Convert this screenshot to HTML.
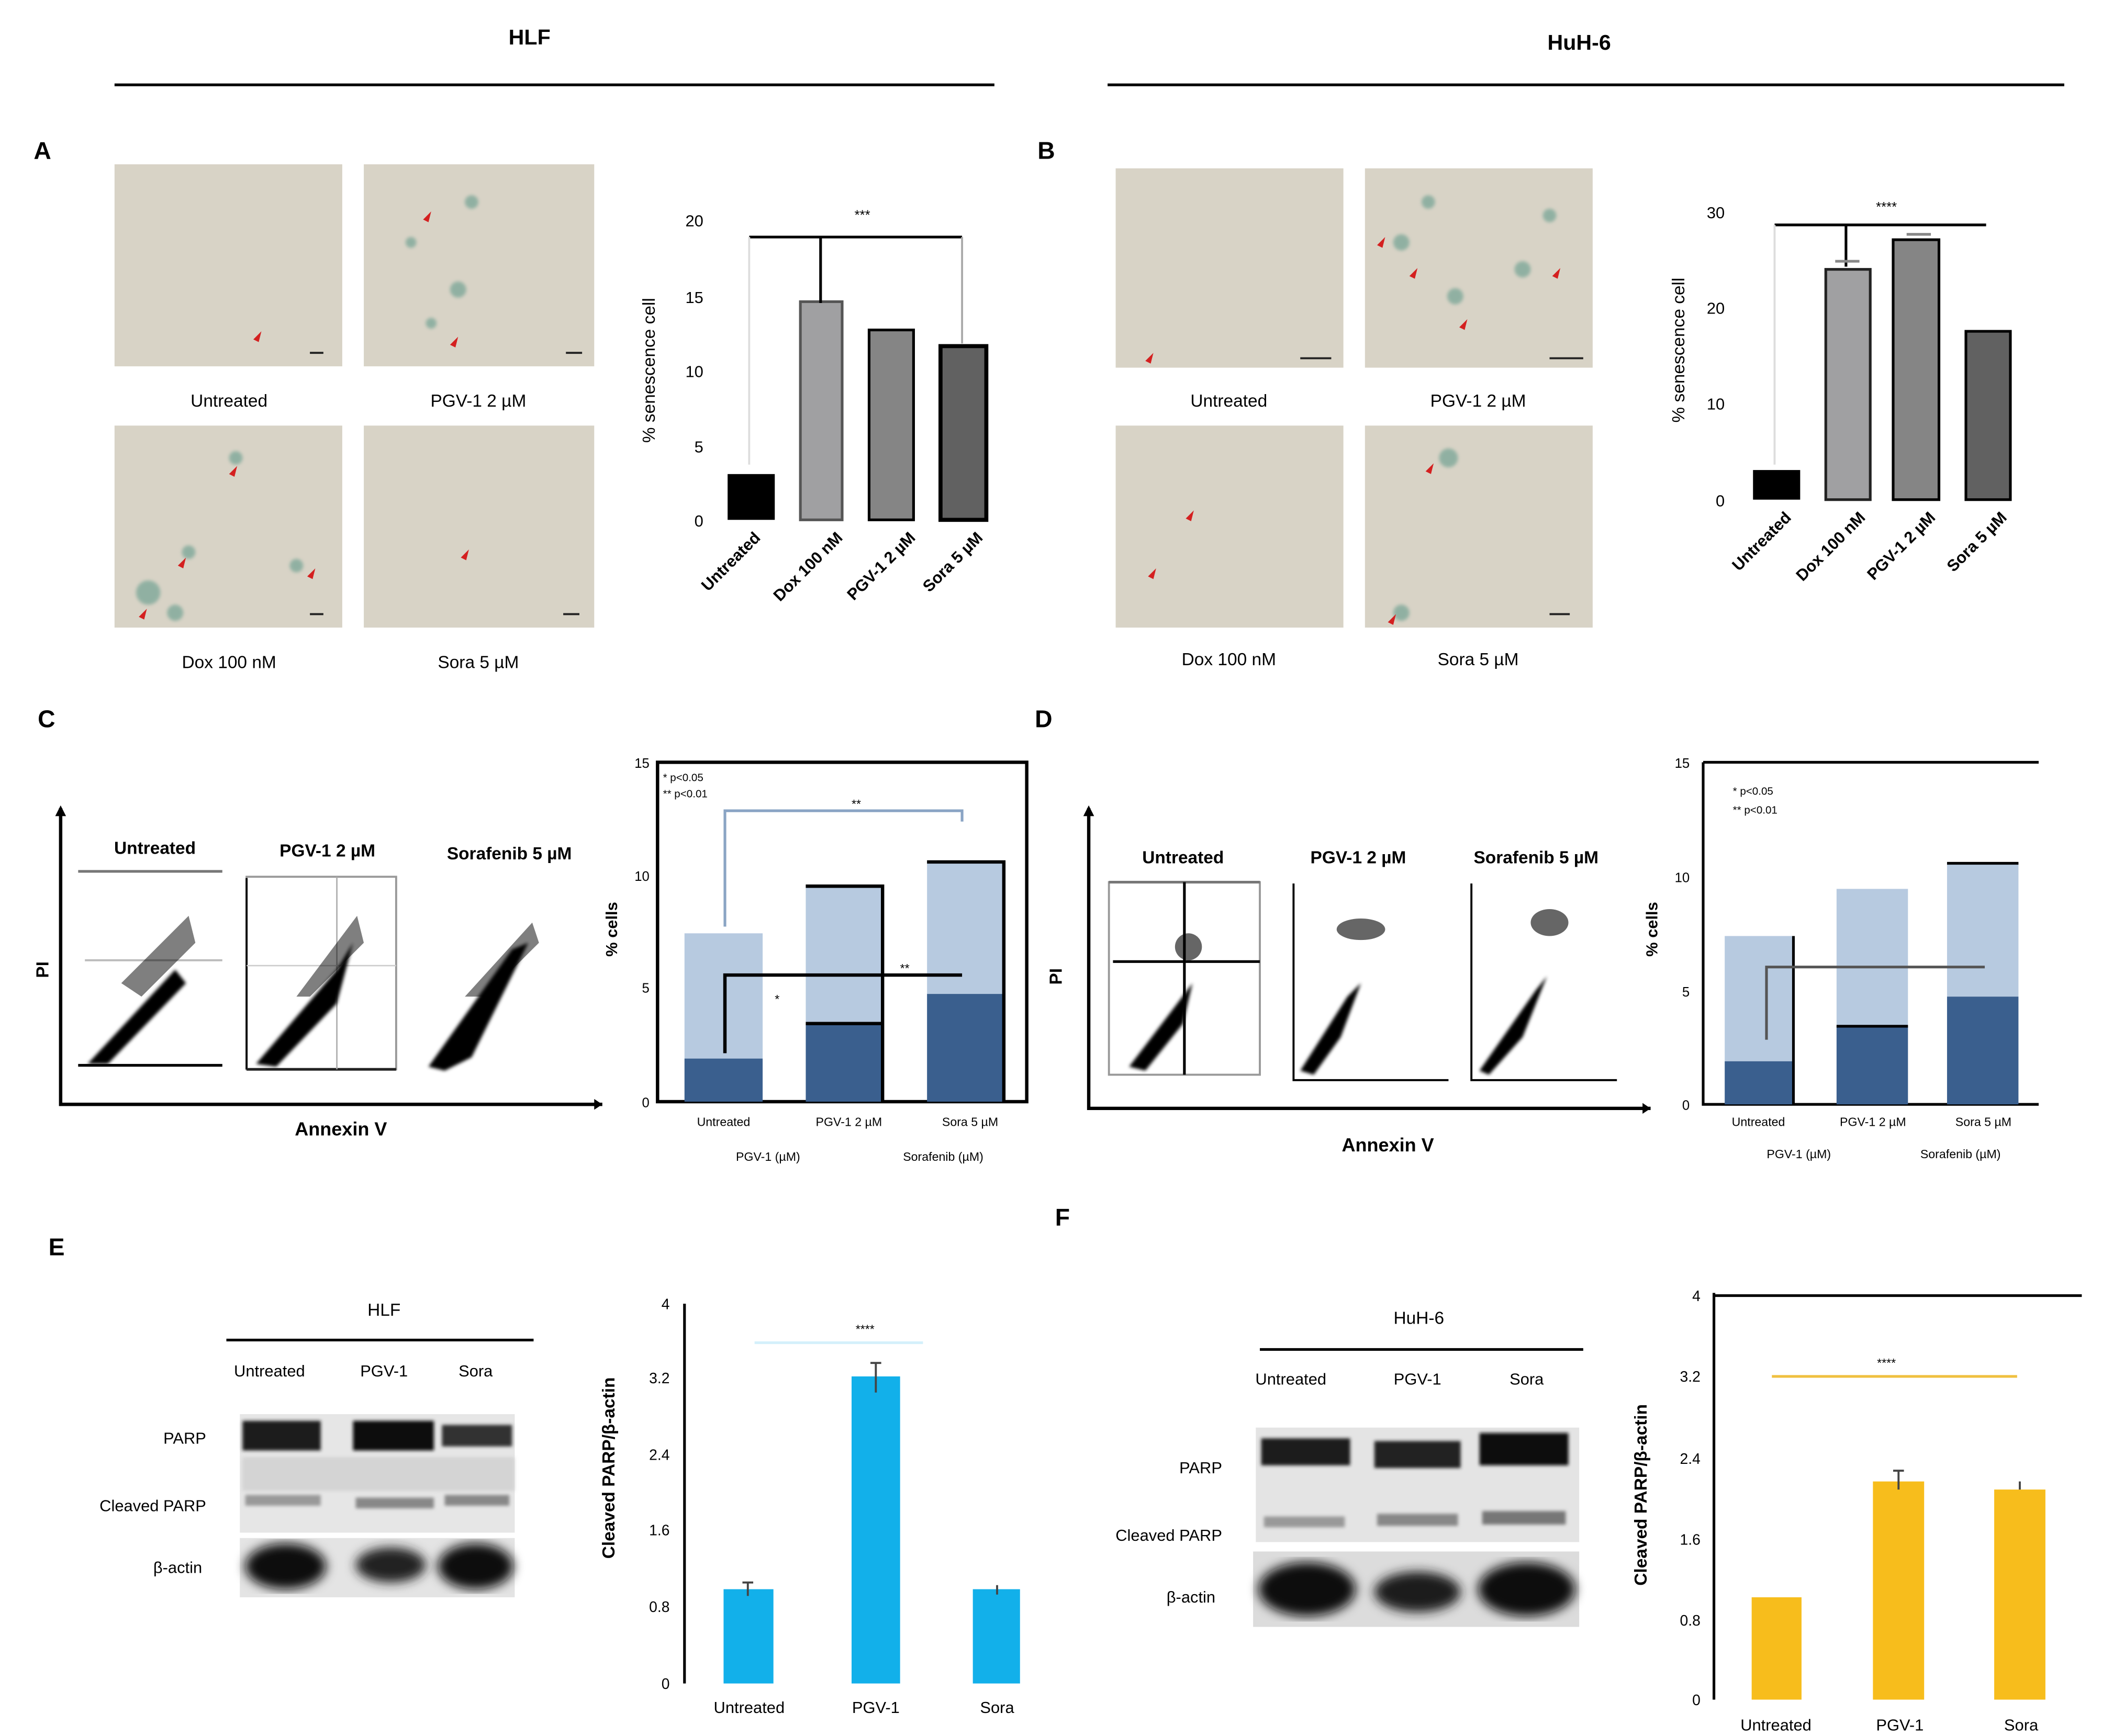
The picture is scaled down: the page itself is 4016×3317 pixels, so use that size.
<!DOCTYPE html>
<html><head><meta charset="utf-8"><style>html,body{margin:0;padding:0;background:#fff}svg{display:block}</style></head>
<body>
<svg width="4016" height="3317" viewBox="0 0 1560 1289" preserveAspectRatio="none" xmlns="http://www.w3.org/2000/svg" font-family="Liberation Sans, sans-serif">
<defs>
<filter id="bl"><feGaussianBlur stdDeviation="4"/></filter>
<filter id="bl2"><feGaussianBlur stdDeviation="1.2"/></filter>
</defs>
<rect width="1560" height="1289" fill="#fff"/>
<!-- headers -->
<text x="393" y="33" font-size="16" font-weight="bold" text-anchor="middle">HLF</text>
<line x1="85" y1="63" x2="738" y2="63" stroke="#000" stroke-width="2"/>
<text x="1172" y="37" font-size="16" font-weight="bold" text-anchor="middle">HuH-6</text>
<line x1="822" y1="63" x2="1532" y2="63" stroke="#000" stroke-width="2"/>
<g font-size="18" font-weight="bold">
<text x="25" y="118">A</text><text x="770" y="118">B</text>
<text x="28" y="540">C</text><text x="768" y="540">D</text>
<text x="36" y="932">E</text><text x="783" y="910">F</text>
</g>
<!-- micrographs -->
<g fill="#d8d3c6">
<rect x="85" y="122" width="169" height="150"/><rect x="270" y="122" width="171" height="150"/>
<rect x="85" y="316" width="169" height="150"/><rect x="270" y="316" width="171" height="150"/>
<rect x="828" y="125" width="169" height="148"/><rect x="1013" y="125" width="169" height="148"/>
<rect x="828" y="316" width="169" height="150"/><rect x="1013" y="316" width="169" height="150"/>
</g>
<g fill="#7fa89a" opacity="0.8" filter="url(#bl2)">
<circle cx="340" cy="215" r="6"/><circle cx="350" cy="150" r="5"/><circle cx="305" cy="180" r="4"/><circle cx="320" cy="240" r="4"/>
<circle cx="110" cy="440" r="9"/><circle cx="130" cy="455" r="6"/><circle cx="175" cy="340" r="5"/><circle cx="140" cy="410" r="5"/><circle cx="220" cy="420" r="5"/>
<circle cx="1040" cy="180" r="6"/><circle cx="1080" cy="220" r="6"/><circle cx="1130" cy="200" r="6"/><circle cx="1150" cy="160" r="5"/><circle cx="1060" cy="150" r="5"/>
<circle cx="1075" cy="340" r="7"/><circle cx="1040" cy="455" r="6"/>
</g>
<g fill="#d42020">
<path d="M188 252l6-6-2 8z"/><path d="M314 163l6-6-2 8z"/><path d="M334 256l6-6-2 8z"/>
<path d="M170 352l6-6-2 8z"/><path d="M132 420l6-6-2 8z"/><path d="M228 428l6-6-2 8z"/><path d="M103 458l6-6-2 8z"/><path d="M342 414l6-6-2 8z"/>
<path d="M850 268l6-6-2 8z"/><path d="M1022 182l6-6-2 8z"/><path d="M1046 205l6-6-2 8z"/><path d="M1083 243l6-6-2 8z"/><path d="M1152 205l6-6-2 8z"/>
<path d="M880 385l6-6-2 8z"/><path d="M852 428l6-6-2 8z"/><path d="M1058 350l6-6-2 8z"/><path d="M1030 462l6-6-2 8z"/>
</g>
<g stroke="#222" stroke-width="1.5">
<line x1="230" y1="262" x2="240" y2="262"/><line x1="420" y1="262" x2="432" y2="262"/><line x1="230" y1="456" x2="240" y2="456"/><line x1="418" y1="456" x2="430" y2="456"/>
<line x1="965" y1="266" x2="988" y2="266"/><line x1="1150" y1="266" x2="1175" y2="266"/><line x1="1150" y1="456" x2="1165" y2="456"/>
</g>
<g font-size="13" text-anchor="middle">
<text x="170" y="302">Untreated</text><text x="355" y="302">PGV-1 2 µM</text>
<text x="170" y="496">Dox 100 nM</text><text x="355" y="496">Sora 5 µM</text>
<text x="912" y="302">Untreated</text><text x="1097" y="302">PGV-1 2 µM</text>
<text x="912" y="494">Dox 100 nM</text><text x="1097" y="494">Sora 5 µM</text>
</g>
<!-- Chart A -->
<g font-size="12">
<text x="522" y="168" text-anchor="end">20</text><text x="522" y="225" text-anchor="end">15</text><text x="522" y="280" text-anchor="end">10</text><text x="522" y="336" text-anchor="end">5</text><text x="522" y="391" text-anchor="end">0</text>
<text transform="translate(486,275) rotate(-90)" text-anchor="middle" font-size="13">% senescence cell</text>
<rect x="540" y="352" width="35" height="34" fill="#000"/>
<rect x="594" y="224" width="31" height="162" fill="#a0a0a2" stroke="#555" stroke-width="2"/>
<rect x="645" y="245" width="33" height="141" fill="#858585" stroke="#000" stroke-width="2"/>
<rect x="698" y="257" width="34" height="129" fill="#616161" stroke="#000" stroke-width="3"/>
<path d="M556 176H714M609 176V225" stroke="#000" stroke-width="2" fill="none"/>
<line x1="556" y1="176" x2="556" y2="345" stroke="#ddd" stroke-width="1.5"/>
<line x1="714" y1="176" x2="714" y2="255" stroke="#aaa" stroke-width="1.5"/>
<text x="640" y="163" text-anchor="middle" font-size="10">***</text>
<g font-size="12" font-weight="bold" text-anchor="end">
<text transform="translate(565,400) rotate(-45)">Untreated</text>
<text transform="translate(626,400) rotate(-45)">Dox 100 nM</text>
<text transform="translate(680,400) rotate(-45)">PGV-1 2 µM</text>
<text transform="translate(730,400) rotate(-45)">Sora 5 µM</text>
</g>
</g>
<!-- Chart B -->
<g font-size="12">
<text x="1280" y="162" text-anchor="end">30</text><text x="1280" y="233" text-anchor="end">20</text><text x="1280" y="304" text-anchor="end">10</text><text x="1280" y="376" text-anchor="end">0</text>
<text transform="translate(1250,260) rotate(-90)" text-anchor="middle" font-size="13">% senescence cell</text>
<rect x="1301" y="349" width="35" height="22" fill="#000"/>
<rect x="1355" y="200" width="33" height="171" fill="#a0a0a2" stroke="#222" stroke-width="2"/>
<rect x="1405" y="178" width="34" height="193" fill="#858585" stroke="#000" stroke-width="2"/>
<rect x="1459" y="246" width="33" height="125" fill="#616161" stroke="#000" stroke-width="2"/>
<path d="M1317 167H1474M1370 167V198" stroke="#000" stroke-width="2" fill="none"/>
<line x1="1317" y1="167" x2="1317" y2="345" stroke="#ddd" stroke-width="1.5"/>
<path d="M1362 194h18M1415 174h18" stroke="#888" stroke-width="2"/>
<text x="1400" y="157" text-anchor="middle" font-size="10">****</text>
<g font-size="12" font-weight="bold" text-anchor="end">
<text transform="translate(1330,385) rotate(-45)">Untreated</text>
<text transform="translate(1385,385) rotate(-45)">Dox 100 nM</text>
<text transform="translate(1437,385) rotate(-45)">PGV-1 2 µM</text>
<text transform="translate(1490,385) rotate(-45)">Sora 5 µM</text>
</g>
</g>
<!-- Flow plots C -->
<g>
<path d="M45 600V820H447" stroke="#000" stroke-width="2.5" fill="none"/>
<path d="M441 816l6 4-6 4z"/><path d="M41 606l4-8 4 8z"/>
<text x="36" y="720" font-size="13" font-weight="bold" transform="rotate(-90 36 720)" text-anchor="middle">PI</text>
<text x="253" y="843" font-size="14" font-weight="bold" text-anchor="middle">Annexin V</text>
<g font-size="13" font-weight="bold" text-anchor="middle"><text x="115" y="634">Untreated</text><text x="243" y="636">PGV-1 2 µM</text><text x="378" y="638">Sorafenib 5 µM</text></g>
<line x1="58" y1="647" x2="165" y2="647" stroke="#777" stroke-width="2"/>
<line x1="63" y1="713" x2="165" y2="713" stroke="#bbb" stroke-width="1.5"/>
<line x1="58" y1="791" x2="165" y2="791" stroke="#000" stroke-width="2"/>
<rect x="183" y="651" width="111" height="143" fill="none" stroke="#999" stroke-width="1.5"/>
<line x1="183" y1="652" x2="183" y2="794" stroke="#000" stroke-width="1.5"/>
<line x1="183" y1="794" x2="294" y2="794" stroke="#222" stroke-width="2"/>
<line x1="250" y1="651" x2="250" y2="794" stroke="#aaa"/>
<line x1="183" y1="717" x2="294" y2="717" stroke="#ccc"/>
<g fill="#000" filter="url(#bl2)">
<path d="M65 790L130 720 138 730 80 790z"/><path d="M190 790L250 720 262 700 250 745 205 792z"/><path d="M318 792L380 705 392 700 350 785 330 795z"/>
</g>
<g fill="#000" opacity="0.5">
<path d="M90 730l50-50 5 20-40 40z"/><path d="M220 740l45-60 5 20-40 40z"/><path d="M345 740l50-55 5 15-40 40z"/>
</g>
</g>
<!-- Chart C -->
<g>
<rect x="488" y="566" width="274" height="252" fill="none" stroke="#000" stroke-width="2.5"/>
<g font-size="10" text-anchor="end"><text x="482" y="570">15</text><text x="482" y="654">10</text><text x="482" y="737">5</text><text x="482" y="822">0</text></g>
<text transform="translate(458,690) rotate(-90)" text-anchor="middle" font-size="12" font-weight="bold">% cells</text>
<text x="492" y="580" font-size="8">* p&lt;0.05</text><text x="492" y="592" font-size="8">** p&lt;0.01</text>
<rect x="508" y="693" width="58" height="93" fill="#b7cae0"/><rect x="508" y="786" width="58" height="32" fill="#3a5f8e"/>
<rect x="598" y="658" width="57" height="102" fill="#b7cae0"/><rect x="598" y="760" width="57" height="58" fill="#3a5f8e"/>
<rect x="688" y="640" width="57" height="98" fill="#b7cae0"/><rect x="688" y="738" width="57" height="80" fill="#3a5f8e"/>
<path d="M598 658H655V818M598 760H655" stroke="#000" stroke-width="2.5" fill="none"/>
<path d="M688 640H745V818" stroke="#000" stroke-width="2.5" fill="none"/>
<path d="M538 688V602H714V610" stroke="#8aa4c4" stroke-width="2" fill="none"/>
<path d="M538 782V724H714" stroke="#000" stroke-width="2.5" fill="none"/>
<text x="632" y="600" font-size="9">**</text><text x="668" y="722" font-size="9">**</text><text x="575" y="745" font-size="9">*</text>
<g font-size="9" text-anchor="middle"><text x="537" y="836">Untreated</text><text x="630" y="836">PGV-1 2 µM</text><text x="720" y="836">Sora 5 µM</text>
<text x="570" y="862">PGV-1 (µM)</text><text x="700" y="862">Sorafenib (µM)</text></g>
</g>
<!-- Flow plots D -->
<g>
<path d="M808 600V823H1225" stroke="#000" stroke-width="2.5" fill="none"/>
<path d="M1219 819l6 4-6 4z"/><path d="M804 606l4-8 4 8z"/>
<text x="788" y="725" font-size="13" font-weight="bold" transform="rotate(-90 788 725)" text-anchor="middle">PI</text>
<text x="1030" y="855" font-size="14" font-weight="bold" text-anchor="middle">Annexin V</text>
<g font-size="13" font-weight="bold" text-anchor="middle"><text x="878" y="641">Untreated</text><text x="1008" y="641">PGV-1 2 µM</text><text x="1140" y="641">Sorafenib 5 µM</text></g>
<rect x="823" y="655" width="112" height="143" fill="none" stroke="#999" stroke-width="1.5"/>
<line x1="823" y1="655" x2="935" y2="655" stroke="#777" stroke-width="2"/>
<line x1="879" y1="655" x2="879" y2="798" stroke="#000" stroke-width="2"/>
<line x1="826" y1="714" x2="935" y2="714" stroke="#000" stroke-width="2"/>
<path d="M960 656V802H1075" stroke="#000" stroke-width="1.5" fill="none"/>
<path d="M1092 656V802H1200" stroke="#000" stroke-width="1.5" fill="none"/>
<g fill="#000" filter="url(#bl2)">
<path d="M838 792L870 750 885 730 878 760 850 795z"/><path d="M965 795L1000 740 1010 730 995 770 975 798z"/><path d="M1098 795L1140 735 1148 725 1130 770 1105 798z"/>
</g>
<g fill="#000" opacity="0.6">
<ellipse cx="882" cy="703" rx="10" ry="10"/><ellipse cx="1010" cy="690" rx="18" ry="8"/><ellipse cx="1150" cy="685" rx="14" ry="10"/>
</g>
</g>
<!-- Chart D -->
<g>
<path d="M1264 566V820H1513M1264 566H1513" stroke="#000" stroke-width="2" fill="none"/>
<g font-size="10" text-anchor="end"><text x="1254" y="570">15</text><text x="1254" y="655">10</text><text x="1254" y="740">5</text><text x="1254" y="824">0</text></g>
<text transform="translate(1230,690) rotate(-90)" text-anchor="middle" font-size="12" font-weight="bold">% cells</text>
<text x="1286" y="590" font-size="8">* p&lt;0.05</text><text x="1286" y="604" font-size="8">** p&lt;0.01</text>
<rect x="1280" y="695" width="51" height="93" fill="#b7cae0"/><rect x="1280" y="788" width="51" height="32" fill="#3a5f8e"/>
<rect x="1363" y="660" width="53" height="102" fill="#b7cae0"/><rect x="1363" y="762" width="53" height="58" fill="#3a5f8e"/>
<rect x="1445" y="641" width="53" height="99" fill="#b7cae0"/><rect x="1445" y="740" width="53" height="80" fill="#3a5f8e"/>
<path d="M1331 695V820" stroke="#000" stroke-width="2"/>
<line x1="1363" y1="762" x2="1416" y2="762" stroke="#000" stroke-width="2"/>
<line x1="1445" y1="641" x2="1498" y2="641" stroke="#000" stroke-width="2"/>
<path d="M1311 772V718H1473" stroke="#555" stroke-width="2" fill="none"/>
<g font-size="9" text-anchor="middle"><text x="1305" y="836">Untreated</text><text x="1390" y="836">PGV-1 2 µM</text><text x="1472" y="836">Sora 5 µM</text>
<text x="1335" y="860">PGV-1 (µM)</text><text x="1455" y="860">Sorafenib (µM)</text></g>
</g>
<!-- E blot -->
<g>
<text x="285" y="977" font-size="13" text-anchor="middle">HLF</text>
<line x1="168" y1="995" x2="396" y2="995" stroke="#000" stroke-width="2"/>
<g font-size="12" text-anchor="middle"><text x="200" y="1022">Untreated</text><text x="285" y="1022">PGV-1</text><text x="353" y="1022">Sora</text></g>
<g font-size="12" text-anchor="end"><text x="153" y="1072">PARP</text><text x="153" y="1122">Cleaved PARP</text><text x="150" y="1168">β-actin</text></g>
<rect x="178" y="1050" width="204" height="88" fill="#e6e6e6"/>
<rect x="178" y="1142" width="204" height="44" fill="#e4e4e4"/>
<g filter="url(#bl2)">
<rect x="180" y="1055" width="58" height="22" fill="#1c1c1c"/><rect x="262" y="1055" width="60" height="22" fill="#111"/><rect x="328" y="1058" width="52" height="16" fill="#333"/>
<rect x="182" y="1110" width="56" height="8" fill="#999"/><rect x="264" y="1112" width="58" height="8" fill="#888"/><rect x="330" y="1110" width="48" height="8" fill="#888"/>
<rect x="180" y="1082" width="202" height="25" fill="#c8c8c8" opacity="0.6"/>
</g>
<g filter="url(#bl)">
<ellipse cx="212" cy="1163" rx="30" ry="17" fill="#0a0a0a"/><ellipse cx="290" cy="1162" rx="26" ry="13" fill="#222"/><ellipse cx="353" cy="1163" rx="28" ry="17" fill="#0a0a0a"/>
</g>
</g>
<!-- E chart -->
<g>
<line x1="508" y1="968" x2="508" y2="1250" stroke="#000" stroke-width="2"/>
<g font-size="11" text-anchor="end"><text x="497" y="972">4</text><text x="497" y="1027">3.2</text><text x="497" y="1084">2.4</text><text x="497" y="1140">1.6</text><text x="497" y="1197">0.8</text><text x="497" y="1254">0</text></g>
<text transform="translate(456,1090) rotate(-90)" text-anchor="middle" font-size="13" font-weight="bold">Cleaved PARP/β-actin</text>
<rect x="537" y="1180" width="37" height="70" fill="#12b0ea"/>
<rect x="632" y="1022" width="36" height="228" fill="#12b0ea"/>
<rect x="722" y="1180" width="35" height="70" fill="#12b0ea"/>
<g stroke="#444" stroke-width="1.5"><path d="M555 1175v10M551 1175h8M650 1012v22M646 1012h8M740 1177v7"/></g>
<line x1="560" y1="997" x2="685" y2="997" stroke="#d4f0fb" stroke-width="2"/>
<text x="642" y="990" font-size="9" text-anchor="middle">****</text>
<g font-size="12" text-anchor="middle"><text x="556" y="1272">Untreated</text><text x="650" y="1272">PGV-1</text><text x="740" y="1272">Sora</text></g>
</g>
<!-- F blot -->
<g>
<text x="1053" y="983" font-size="13" text-anchor="middle">HuH-6</text>
<line x1="935" y1="1002" x2="1175" y2="1002" stroke="#000" stroke-width="2"/>
<g font-size="12" text-anchor="middle"><text x="958" y="1028">Untreated</text><text x="1052" y="1028">PGV-1</text><text x="1133" y="1028">Sora</text></g>
<g font-size="12" text-anchor="end"><text x="907" y="1094">PARP</text><text x="907" y="1144">Cleaved PARP</text><text x="902" y="1190">β-actin</text></g>
<rect x="932" y="1060" width="240" height="85" fill="#e4e4e4"/>
<rect x="930" y="1152" width="242" height="56" fill="#dcdcdc"/>
<g filter="url(#bl2)">
<rect x="936" y="1068" width="66" height="20" fill="#1c1c1c"/><rect x="1020" y="1070" width="64" height="20" fill="#222"/><rect x="1098" y="1064" width="66" height="24" fill="#111"/>
<rect x="938" y="1126" width="60" height="8" fill="#999"/><rect x="1022" y="1124" width="60" height="9" fill="#888"/><rect x="1100" y="1122" width="62" height="10" fill="#777"/>
</g>
<g filter="url(#bl)">
<ellipse cx="970" cy="1180" rx="36" ry="20" fill="#0a0a0a"/><ellipse cx="1052" cy="1182" rx="32" ry="15" fill="#1a1a1a"/><ellipse cx="1133" cy="1180" rx="36" ry="20" fill="#0a0a0a"/>
</g>
</g>
<!-- F chart -->
<g>
<path d="M1272 960V1262M1272 962H1545" stroke="#000" stroke-width="2" fill="none"/>
<g font-size="11" text-anchor="end"><text x="1262" y="966">4</text><text x="1262" y="1026">3.2</text><text x="1262" y="1087">2.4</text><text x="1262" y="1147">1.6</text><text x="1262" y="1207">0.8</text><text x="1262" y="1266">0</text></g>
<text transform="translate(1222,1110) rotate(-90)" text-anchor="middle" font-size="13" font-weight="bold">Cleaved PARP/β-actin</text>
<rect x="1300" y="1186" width="37" height="76" fill="#f7bd1c"/>
<rect x="1390" y="1100" width="38" height="162" fill="#f7bd1c"/>
<rect x="1480" y="1106" width="38" height="156" fill="#f7bd1c"/>
<g stroke="#444" stroke-width="1.5"><path d="M1409 1092v14M1405 1092h8M1499 1100v6"/></g>
<line x1="1315" y1="1022" x2="1497" y2="1022" stroke="#f0c040" stroke-width="2"/>
<text x="1400" y="1015" font-size="9" text-anchor="middle">****</text>
<g font-size="12" text-anchor="middle"><text x="1318" y="1285">Untreated</text><text x="1410" y="1285">PGV-1</text><text x="1500" y="1285">Sora</text></g>
</g>
</svg>
</body></html>
